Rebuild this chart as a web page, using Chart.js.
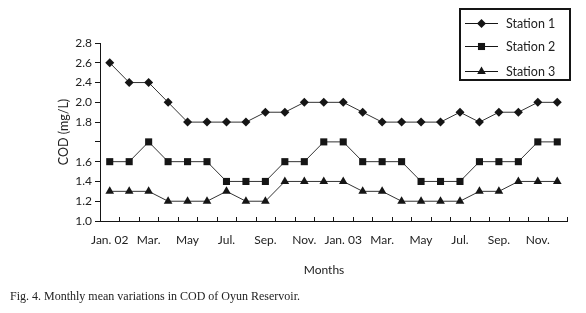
<!DOCTYPE html>
<html><head><meta charset="utf-8">
<script src="https://cdn.jsdelivr.net/npm/chart.js@4"></script>
<style>
html,body{margin:0;padding:0;background:#fff;}
#wrap{position:relative;width:586px;height:313px;overflow:hidden;}
#c{position:absolute;left:0;top:0;}
#cap{position:absolute;left:10px;top:289px;font:12px "Liberation Serif",serif;color:#222;white-space:nowrap;}
#xt{position:absolute;left:324px;top:262px;transform:translateX(-50%);font:12px Lato,sans-serif;color:#222;white-space:nowrap;}
</style></head><body>
<div id="wrap">
<canvas id="c" width="586" height="313"></canvas>
<div id="xt">Months</div>
<div id="cap">Fig. 4. Monthly mean variations in COD of Oyun Reservoir.</div>
</div>
<script>
const months = ["Jan. 02","Feb.","Mar.","Apr.","May","Jun.","Jul.","Aug.","Sep.","Oct.","Nov.","Dec.",
                "Jan. 03","Feb.","Mar.","Apr.","May","Jun.","Jul.","Aug.","Sep.","Oct.","Nov.","Dec."];
const station1 = [2.6,2.4,2.4,2.2,2.0,2.0,2.0,2.0,2.1,2.1,2.2,2.2,2.2,2.1,2.0,2.0,2.0,2.0,2.1,2.0,2.1,2.1,2.2,2.2];
const station2 = [1.6,1.6,1.8,1.6,1.6,1.6,1.4,1.4,1.4,1.6,1.6,1.8,1.8,1.6,1.6,1.6,1.4,1.4,1.4,1.6,1.6,1.6,1.8,1.8];
const station3 = [1.3,1.3,1.3,1.2,1.2,1.2,1.3,1.2,1.2,1.4,1.4,1.4,1.4,1.3,1.3,1.2,1.2,1.2,1.2,1.3,1.3,1.4,1.4,1.4];
const seriesNames = ["Station 1","Station 2","Station 3"];
const yTickLabels = ["1.0","1.2","1.4","1.6","","1.8","2.0","2.4","2.6","2.8"];

const INK = '#151515';
const tickFont = {family:'Lato', size:12};

const inwardXTicks = {
  id:'inwardXTicks',
  afterDraw(chart){
    const xs = chart.scales.x, ctx = chart.ctx;
    const w = xs.getPixelForValue(1) - xs.getPixelForValue(0);
    ctx.save();
    ctx.strokeStyle = INK; ctx.lineWidth = 1;
    ctx.beginPath();
    for (let k = 0; k <= chart.data.labels.length; k++) {
      const x = Math.round(xs.getPixelForValue(0) - w/2 + k*w) + 0.5;
      ctx.moveTo(x, xs.top); ctx.lineTo(x, xs.top - 4);
    }
    ctx.stroke();
    ctx.restore();
  }
};

const boxLegend = {
  id:'boxLegend',
  afterDraw(chart){
    const ctx = chart.ctx;
    ctx.save();
    ctx.strokeStyle = INK; ctx.lineWidth = 2;
    ctx.strokeRect(460, 9, 110, 71);
    const rows = [23, 46, 71];
    chart.data.datasets.forEach((ds, i) => {
      const y = rows[i];
      ctx.strokeStyle = INK; ctx.lineWidth = 1;
      ctx.beginPath(); ctx.moveTo(465, y + 0.5); ctx.lineTo(498, y + 0.5); ctx.stroke();
      ctx.fillStyle = INK;
      Chart.helpers.drawPoint(ctx, {pointStyle: ds.pointStyle, radius: ds.pointRadius, borderWidth: 0, rotation: 0}, 481.5, y + 0.5);
      ctx.fillStyle = '#222';
      ctx.font = '12.5px Lato';
      ctx.textBaseline = 'middle'; ctx.textAlign = 'left';
      ctx.fillText(ds.label, 506, y + 1);
    });
    ctx.restore();
  }
};

const mk = (label, data, style, r) => ({
  label, data, pointStyle: style, pointRadius: r, pointHoverRadius: r,
  borderColor: '#333', borderWidth: 1, backgroundColor: INK,
  pointBackgroundColor: INK, pointBorderColor: INK, pointBorderWidth: 0,
  tension: 0, fill: false
});

new Chart(document.getElementById('c'), {
  type: 'line',
  data: {
    labels: months,
    datasets: [
      mk(seriesNames[0], station1, 'rectRot', 4.5),
      mk(seriesNames[1], station2, 'rect', 5),
      mk(seriesNames[2], station3, 'triangle', 5)
    ]
  },
  options: {
    responsive: false, animation: false, devicePixelRatio: 1,
    layout: {padding: {left: 52, right: 19, top: 43, bottom: 32}},
    plugins: {legend: {display: false}, tooltip: {enabled: false}},
    scales: {
      x: {
        type: 'category', offset: true,
        grid: {display: false, drawTicks: false},
        border: {display: true, color: INK, width: 1},
        ticks: {autoSkip: false, maxRotation: 0, minRotation: 0, padding: 12, color: '#222', font: tickFont,
                callback: (v, i) => (i % 2 === 0 ? months[i] : '')},
        afterFit: s => { s.height = 60; }
      },
      y: {
        min: 1.0, max: 2.8,
        grid: {display: true, drawOnChartArea: false, drawTicks: true, tickLength: 5, color: INK},
        border: {display: true, color: INK, width: 1},
        ticks: {stepSize: 0.2, padding: 3, color: '#222', font: tickFont,
                callback: (v, i) => yTickLabels[i]},
        title: {display: true, text: 'COD (mg/L)', color: '#222', font: {family: 'Lato', size: 12.5}, padding: {top: 4, bottom: 0}},
        afterFit: s => { s.width = 48; }
      }
    }
  },
  plugins: [inwardXTicks, boxLegend]
});
</script>
</body></html>
